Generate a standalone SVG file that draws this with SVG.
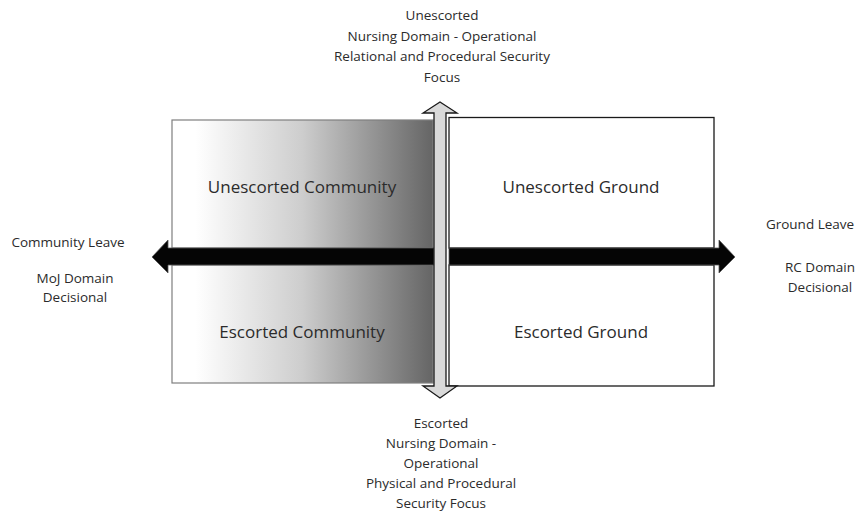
<svg xmlns="http://www.w3.org/2000/svg" width="860" height="512" viewBox="0 0 860 512">
<defs>
<linearGradient id="grad" x1="0" y1="0" x2="1" y2="0">
<stop offset="0.09" stop-color="#ffffff"/>
<stop offset="0.5" stop-color="#cdcdcd"/>
<stop offset="1" stop-color="#656565"/>
</linearGradient>
<style>
text{font-family:"Open Sans","Liberation Sans",sans-serif;fill:#2b2b2b;text-anchor:middle}
.big{font-size:17px}
.small{font-size:13.5px}
.gbox{fill:url(#grad);stroke:#7f7f7f;stroke-width:1.2}
.wbox{fill:#ffffff;stroke:#1a1a1a;stroke-width:1.3}
.harrow{fill:#050505;stroke:#555;stroke-width:0.8}
.varrow{fill:#d9d9d9;stroke:#1a1a1a;stroke-width:1.3}
</style>
</defs>
<rect width="860" height="512" fill="#ffffff"/>
<g id="unescorted-community">
<rect class="gbox" x="172" y="120" width="261" height="128"/>
<text class="big" x="302" y="193">Unescorted Community</text>
</g>
<g id="escorted-community">
<rect class="gbox" x="172" y="265" width="261" height="118"/>
<text class="big" x="302" y="338">Escorted Community</text>
</g>
<g id="unescorted-ground">
<rect class="wbox" x="449" y="117.5" width="265" height="130.5"/>
<text class="big" x="581" y="193">Unescorted Ground</text>
</g>
<g id="escorted-ground">
<rect class="wbox" x="449" y="265" width="265" height="121"/>
<text class="big" x="581" y="338">Escorted Ground</text>
</g>
<g id="connectors">
<polygon class="harrow" points="152,257 168,240 168,248 434,248 434,265 168,265 168,273"/>
<polygon class="harrow" points="449,248 719,248 719,240 735,257 719,273 719,265 449,265"/>
<polygon class="varrow" points="440,102 457,113 446,113 446,386 457,386 440,398 423,386 434,386 434,113 423,113"/>
</g>
<g id="top-label">
<text class="small" x="442" y="20">Unescorted</text>
<text class="small" x="442" y="41">Nursing Domain - Operational</text>
<text class="small" x="442" y="61">Relational and Procedural Security</text>
<text class="small" x="442" y="82">Focus</text>
</g>
<g id="bottom-label">
<text class="small" x="441" y="428">Escorted</text>
<text class="small" x="441" y="448">Nursing Domain -</text>
<text class="small" x="441" y="468">Operational</text>
<text class="small" x="441" y="488">Physical and Procedural</text>
<text class="small" x="441" y="508">Security Focus</text>
</g>
<g id="left-label">
<text class="small" x="68" y="247">Community Leave</text>
<text class="small" x="75" y="283">MoJ Domain</text>
<text class="small" x="75" y="302">Decisional</text>
</g>
<g id="right-label">
<text class="small" x="810" y="229">Ground Leave</text>
<text class="small" x="820" y="272">RC Domain</text>
<text class="small" x="820" y="292">Decisional</text>
</g>
</svg>
